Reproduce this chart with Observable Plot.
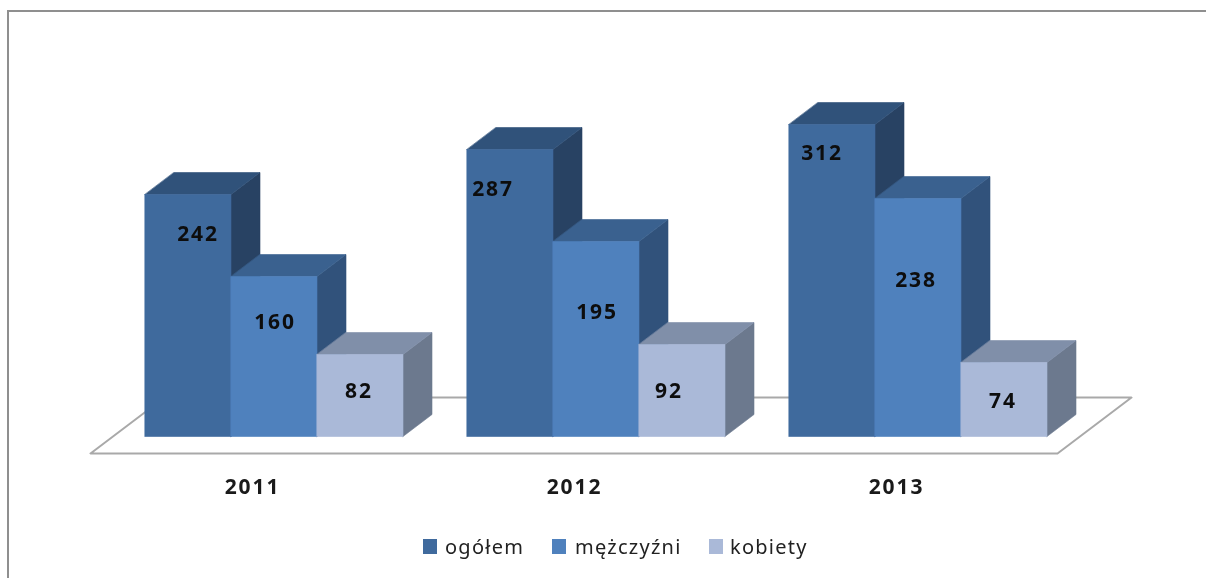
<!DOCTYPE html>
<html><head><meta charset="utf-8">
<script src="https://cdn.jsdelivr.net/npm/d3@7"></script>
<script src="https://cdn.jsdelivr.net/npm/@observablehq/plot@0.6"></script>
<style>
html,body{margin:0;padding:0;background:#fff;overflow:hidden}
#chart{position:relative;width:1206px;height:578px;overflow:hidden}
#frame{position:absolute;left:7px;top:10px;width:1300px;height:700px;border:2px solid #8f8f8f;box-sizing:border-box;z-index:2;pointer-events:none}
#plot{position:absolute;left:0;top:0;filter:blur(.45px)}
#legend{position:absolute;left:0;top:530px;width:1206px;height:34px;font:20px "Noto Sans",sans-serif;color:#222;letter-spacing:1.25px;filter:blur(.45px)}
#legend span{position:absolute;white-space:nowrap;line-height:34px}
#legend i{position:absolute;top:9px;width:14px;height:15px}
</style></head><body>
<div id="chart"><div id="plot"></div><div id="frame"></div><div id="legend"></div></div>
<script>
const years = ["2011", "2012", "2013"];
const seriesNames = ["ogółem", "mężczyźni", "kobiety"];
const ogolem = [242, 287, 312];
const mezczyzni = [160, 195, 238];
const kobiety = [82, 92, 74];
const allSeries = [ogolem, mezczyzni, kobiety];

const labelHeights = [[202, 247, 283], [114, 124, 156], [45, 45, 35]];
const labelShifts = [[10, -17, -10], [1, 1, -2], [-1, -13, -1]];

const frontColors = ["#3f6a9d", "#4f81bd", "#aab9d8"];
const topColors = ["#30527a", "#3a618f", "#808fa9"];
const sideColors = ["#284263", "#31527b", "#6c798e"];

const step = 322, barPx = 86, depthX = 29, depthY = 22;
const unit = 1 / step, barW = barPx * unit, dX = depthX * unit;

const faces = [];
const bars = [];
years.forEach((yr, g) => {
  allSeries.forEach((vals, s) => {
    const v = vals[g];
    const x0 = g + (s - 1.5) * barW, x1 = x0 + barW;
    const add = (name, fill, pts) => pts.forEach(([x, y]) => faces.push({key: `${g}-${s}-${name}`, fill, x, y}));
    add("side", sideColors[s], [[x1, 0], [x1 + dX, depthY], [x1 + dX, v + depthY], [x1, v]]);
    add("top", topColors[s], [[x0, v], [x1, v], [x1 + dX, v + depthY], [x0 + dX, v + depthY]]);
    add("front", frontColors[s], [[x0, 0], [x1, 0], [x1, v], [x0, v]]);
    bars.push({x: x0 + barW / 2 + labelShifts[s][g] * unit, y: labelHeights[s][g], text: String(v)});
  });
});

const floorLeft = -0.5 - 22.5 * unit, floorRight = 2.5 + 52.5 * unit;
const floorFront = -17, floorBack = 39, floorSkew = 74 * unit;
const floor = [
  {x: floorLeft, y: floorFront},
  {x: floorRight - floorSkew, y: floorFront},
  {x: floorRight, y: floorBack},
  {x: floorLeft + floorSkew, y: floorBack}
];

const plot = Plot.plot({
  width: 1206, height: 520,
  marginLeft: 0, marginRight: 0, marginTop: 0, marginBottom: 84,
  style: {background: "transparent", overflow: "visible", letterSpacing: "1.9px"},
  x: {domain: [-273.5 / step, 932.5 / step], range: [0, 1206], axis: null},
  y: {domain: [0, 436], range: [436, 0], axis: null},
  marks: [
    Plot.line(floor, {x: "x", y: "y", stroke: "#a9a9a9", strokeWidth: 2, curve: "linear-closed"}),
    Plot.line(faces, {x: "x", y: "y", z: "key", fill: "fill", stroke: "fill", strokeWidth: 0.6, curve: "linear-closed"}),
    Plot.text(bars, {x: "x", y: "y", text: "text", fill: "#0d0d0d", fontSize: 21, fontWeight: 700, fontFamily: "Noto Sans"}),
    Plot.axisX([0, 1, 2], {anchor: "bottom", tickSize: 0, tickPadding: 43, dx: -21.5, color: "#1a1a1a",
      tickFormat: i => years[i], fontSize: 21, fontWeight: 700, fontFamily: "Noto Sans", label: null})
  ]
});
document.getElementById("plot").append(plot);

const legendX = [[423, 445], [552, 575], [709, 730]];
const legend = document.getElementById("legend");
seriesNames.forEach((name, i) => {
  const sw = document.createElement("i");
  sw.style.left = legendX[i][0] + "px";
  sw.style.background = frontColors[i];
  const t = document.createElement("span");
  t.style.left = legendX[i][1] + "px";
  t.textContent = name;
  legend.append(sw, t);
});
</script></body></html>
